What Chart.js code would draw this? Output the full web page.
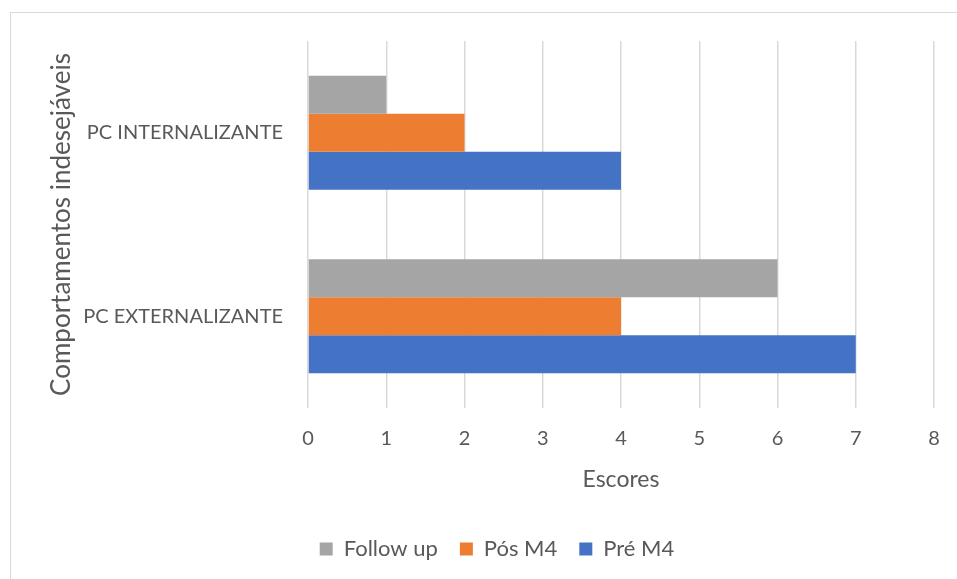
<!DOCTYPE html>
<html>
<head>
<meta charset="utf-8">
<script src="https://cdn.jsdelivr.net/npm/chart.js@4.4.1/dist/chart.umd.min.js"></script>
<style>
    html, body { margin: 0; padding: 0; background: #fff; overflow: hidden; }
    #frame { position: absolute; left: 10px; top: 12px; width: 1000px; height: 700px; border: 1px solid #d9d9d9; }
    #wrap { position: absolute; left: 0; top: 0; width: 957px; height: 579px; }
</style>
</head>
<body>
<div id="frame"></div>
<div id="wrap"><canvas id="chart" width="957" height="579"></canvas></div>
<script>
'use strict';

// categories (top to bottom) and series values
const categories = ['PC INTERNALIZANTE', 'PC EXTERNALIZANTE'];
const followUp = [1, 6];
const posM4 = [2, 4];
const preM4 = [4, 7];
const xTicks = [0, 1, 2, 3, 4, 5, 6, 7, 8];

const textColor = '#595959';
const fontFamily = 'Lato, "Open Sans", sans-serif';

// nudge the legend a bit to the right, like the original
const legendShift = {
    id: 'legendShift',
    afterLayout(chart) {
        chart.legend.left += 25;
        chart.legend.right += 25;
    }
};

let ctx = document.getElementById('chart').getContext('2d');
let chart = new Chart(ctx, {
    type: 'bar',
    data: {
        labels: categories,
        datasets: [
            { label: 'Follow up', data: followUp, backgroundColor: '#a5a5a5' },
            { label: 'Pós M4', data: posM4, backgroundColor: '#ed7d31' },
            { label: 'Pré M4', data: preM4, backgroundColor: '#4472c4' }
        ]
    },
    plugins: [legendShift],
    options: {
        indexAxis: 'y',
        responsive: false,
        animation: false,
        categoryPercentage: 0.62,
        barPercentage: 1.0,
        layout: { padding: { left: 10, top: 41, right: 23, bottom: 9 } },
        plugins: {
            tooltip: { enabled: false },
            legend: {
                position: 'bottom',
                labels: {
                    color: textColor,
                    font: { family: fontFamily, size: 22 },
                    boxWidth: 13,
                    boxHeight: 13,
                    padding: 22
                }
            }
        },
        scales: {
            x: {
                min: xTicks[0],
                max: xTicks[xTicks.length - 1],
                afterBuildTicks: function(scale) {
                    scale.ticks = xTicks.map(v => ({ value: v }));
                },
                afterFit: function(scale) {
                    scale.height = 108;
                    scale.paddingLeft = 0;
                    scale.paddingRight = 0;
                },
                grid: { color: '#d9d9d9', lineWidth: 1.5, drawTicks: false },
                border: { display: false },
                ticks: { color: textColor, font: { family: fontFamily, size: 20 }, padding: 19 },
                title: {
                    display: true,
                    text: 'Escores',
                    color: textColor,
                    font: { family: fontFamily, size: 23 },
                    padding: { top: 0, bottom: 23 }
                }
            },
            y: {
                afterFit: function(scale) { scale.width = 298; },
                grid: { display: false, drawTicks: false },
                border: { display: false },
                ticks: { color: textColor, font: { family: fontFamily, size: 20 }, padding: 25 },
                title: {
                    display: true,
                    text: 'Comportamentos indesejáveis',
                    color: textColor,
                    font: { family: fontFamily, size: 26 },
                    padding: { top: 36, bottom: 0 }
                }
            }
        }
    }
});
</script>
</body>
</html>
